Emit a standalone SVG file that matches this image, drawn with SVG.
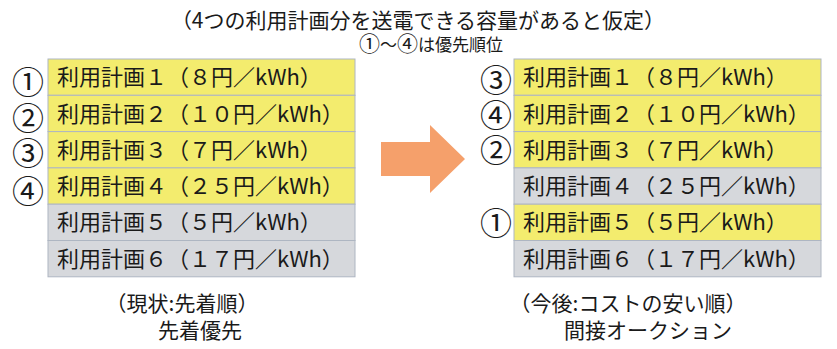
<svg xmlns="http://www.w3.org/2000/svg" width="837" height="349" viewBox="0 0 837 349">
<style>
text{font-family:"Noto Sans CJK JP","Noto Sans CJK SC",sans-serif;fill:#1a1a1a}
.y{fill:#F3EC6E;stroke:#AEB6C2;stroke-width:1}
.g{fill:#D6D8DC;stroke:#AEB6C2;stroke-width:1}
.t{font-size:22px}
.c{font-size:32px}
.cap{font-size:21px}
</style>
<rect width="837" height="349" fill="#fff"/>
<g id="title">
<text x="418" y="28" font-size="21" text-anchor="middle">（4つの利用計画分を送電できる容量があると仮定）</text>
<text x="431" y="51" font-size="17" text-anchor="middle" fill="#333"><tspan font-size="21">①</tspan>～<tspan font-size="21">④</tspan>は優先順位</text>
</g>
<g id="left-table">
<g id="L1"><rect class="y" x="48" y="59" width="307" height="36.3"/><text class="t" x="57" y="85">利用計画１（８円／kWh）</text></g>
<g id="L2"><rect class="y" x="48" y="95.3" width="307" height="36.3"/><text class="t" x="57" y="121.5">利用計画２（１０円／kWh）</text></g>
<g id="L3"><rect class="y" x="48" y="131.6" width="307" height="36.3"/><text class="t" x="57" y="157.8">利用計画３（７円／kWh）</text></g>
<g id="L4"><rect class="y" x="48" y="167.9" width="307" height="36.3"/><text class="t" x="57" y="194">利用計画４（２５円／kWh）</text></g>
<g id="L5"><rect class="g" x="48" y="204.2" width="307" height="36.3"/><text class="t" x="57" y="230.3">利用計画５（５円／kWh）</text></g>
<g id="L6"><rect class="g" x="48" y="240.5" width="307" height="36.3"/><text class="t" x="57" y="266.6">利用計画６（１７円／kWh）</text></g>
</g>
<g id="left-ranks">
<text class="c" x="28" y="94" text-anchor="middle">①</text>
<text class="c" x="28" y="130" text-anchor="middle">②</text>
<text class="c" x="28" y="165" text-anchor="middle">③</text>
<text class="c" x="28" y="203" text-anchor="middle">④</text>
</g>
<g id="right-table">
<g id="R1"><rect class="y" x="514" y="59" width="307" height="36.3"/><text class="t" x="523" y="85">利用計画１（８円／kWh）</text></g>
<g id="R2"><rect class="y" x="514" y="95.3" width="307" height="36.3"/><text class="t" x="523" y="121.5">利用計画２（１０円／kWh）</text></g>
<g id="R3"><rect class="y" x="514" y="131.6" width="307" height="36.3"/><text class="t" x="523" y="157.8">利用計画３（７円／kWh）</text></g>
<g id="R4"><rect class="g" x="514" y="167.9" width="307" height="36.3"/><text class="t" x="523" y="194">利用計画４（２５円／kWh）</text></g>
<g id="R5"><rect class="y" x="514" y="204.2" width="307" height="36.3"/><text class="t" x="523" y="230.3">利用計画５（５円／kWh）</text></g>
<g id="R6"><rect class="g" x="514" y="240.5" width="307" height="36.3"/><text class="t" x="523" y="266.6">利用計画６（１７円／kWh）</text></g>
</g>
<g id="right-ranks">
<text class="c" x="496" y="92" text-anchor="middle">③</text>
<text class="c" x="496" y="127" text-anchor="middle">④</text>
<text class="c" x="496" y="162" text-anchor="middle">②</text>
<text class="c" x="496" y="235" text-anchor="middle">①</text>
</g>
<g id="connectors">
<polygon points="381,142 430,142 430,125 465,159 430,193 430,176 381,176" fill="#F5A06B"/>
</g>
<g id="captions">
<text class="cap" x="182" y="311" text-anchor="middle">（現状:先着順）</text>
<text class="cap" x="200" y="338" text-anchor="middle" font-size="22">先着優先</text>
<text class="cap" x="628" y="311" text-anchor="middle">（今後:コストの安い順）</text>
<text class="cap" x="648" y="338" text-anchor="middle">間接オークション</text>
</g>
</svg>
